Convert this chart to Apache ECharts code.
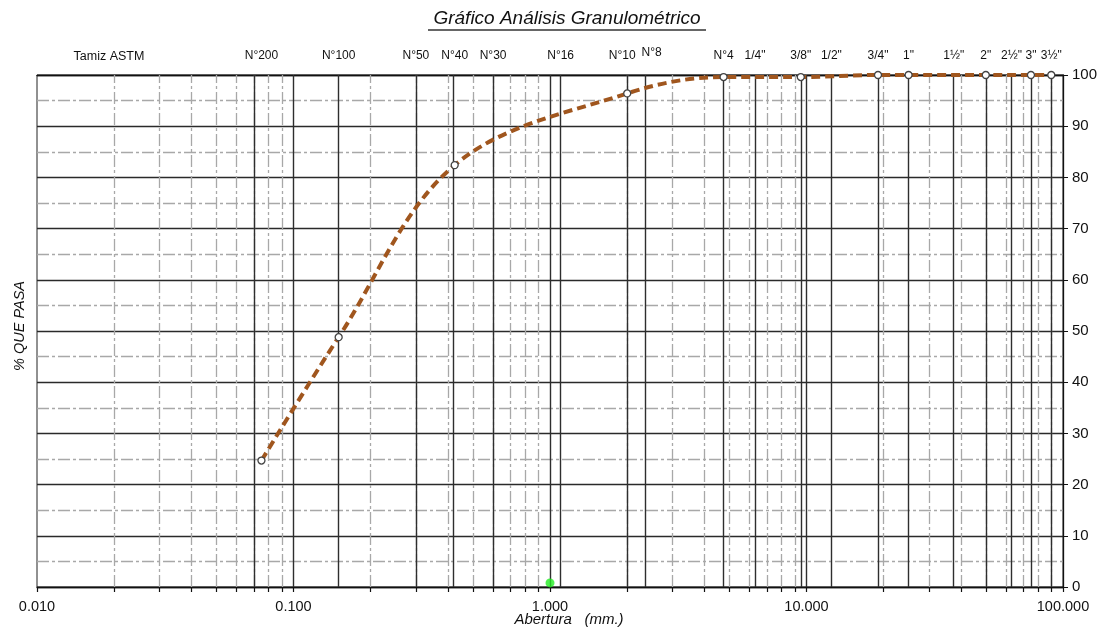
<!DOCTYPE html>
<html><head><meta charset="utf-8">
<script src="https://cdn.jsdelivr.net/npm/echarts@6/dist/echarts.min.js"></script>
<style>html,body{margin:0;padding:0;background:#fff}#c{width:1106px;height:628px}</style>
</head><body><div id="c"></div>
<script>
// ---- data ----
const sieveNames = ['N°200','N°100','N°50','N°40','N°30','N°16','N°10','N°8','N°4','1/4"','3/8"','1/2"','3/4"','1"','1½"','2"','2½"','3"','3½"'];
const sieveSizes = [0.075,0.15,0.3,0.425,0.6,1.1,2.0,2.36,4.75,6.3,9.5,12.5,19,25,37.5,50,63,75,90];
const sampleSizes = [0.075,0.15,0.425,2.0,4.75,9.5,19,25,50,75,90];
const samplePassing = [24.7,48.8,82.4,96.4,99.6,99.6,100,100,100,100,100];
const greenPoint = [1.0, 0.8];
const decadeValues = [0.01,0.1,1,10,100];
const innerDecades = [0.1,1,10];
const minorValues = [0.02,0.03,0.04,0.05,0.06,0.07,0.08,0.09,
                     0.2,0.3,0.4,0.5,0.6,0.7,0.8,0.9,
                     2,3,4,5,6,7,8,9,
                     20,30,40,50,60,70,80,90];
const tickValues = decadeValues.concat(minorValues);

const FONT = 'Liberation Sans, Arial, sans-serif';
const NARROW = 'Liberation Sans Narrow, Liberation Sans, Arial, sans-serif';

const chart = echarts.init(document.getElementById('c'), null, {renderer:'canvas'});
const darkLines = innerDecades.concat(sieveSizes);

const richStyles = {
  n10: {fontFamily: NARROW, fontSize: 12, color: '#111', padding: [0,10,0,0]},
  n8: {fontFamily: NARROW, fontSize: 12, color: '#111', padding: [0,0,3,12]}
};

chart.setOption({
  animation: false,
  backgroundColor: '#fff',
  grid: {left: 37, right: 43, top: 75, bottom: 41, show: true, borderColor: '#222', borderWidth: 1},
  xAxis: [{
    type: 'log', logBase: 10, min: 0.01, max: 100, position: 'bottom',
    axisLine: {show: true, onZero: false, lineStyle: {color: '#111', width: 1.3}},
    axisTick: {show: true, customValues: tickValues, length: 5, inside: false, lineStyle: {color: '#111', width: 1.2}},
    axisLabel: {customValues: decadeValues, formatter: v => Number(v).toFixed(3), fontFamily: FONT, fontSize: 14.5, color: '#111', margin: 12},
    splitLine: {show: false}
  }, {
    type: 'log', logBase: 10, min: 0.01, max: 100, position: 'top',
    axisLine: {show: true, onZero: false, lineStyle: {color: '#111', width: 1.3}},
    axisTick: {show: false},
    axisLabel: {
      customValues: sieveSizes,
      formatter: v => {
        const i = sieveSizes.indexOf(Number(v));
        const n = i >= 0 ? sieveNames[i] : '';
        if (n === 'N°8') return '{n8|' + n + '}';
        if (n === 'N°10') return '{n10|' + n + '}';
        return n;
      },
      rich: richStyles,
      fontFamily: NARROW, fontSize: 12, color: '#111', margin: 13, hideOverlap: false
    },
    splitLine: {show: false}
  }],
  yAxis: {
    type: 'value', min: 0, max: 100, interval: 10, position: 'right',
    axisLine: {show: true, onZero: false, lineStyle: {color: '#111', width: 1.3}},
    axisTick: {show: true, length: 5, lineStyle: {color: '#111'}},
    axisLabel: {fontFamily: FONT, fontSize: 15, color: '#111', margin: 9},
    splitLine: {show: true, lineStyle: {color: '#2a2a2a', width: 1.3}},
    minorTick: {show: false, splitNumber: 2},
    minorSplitLine: {show: true, lineStyle: {color: '#a8a8a8', width: 1.3, type: [12,3,3,3]}}
  },
  graphic: [
    {type: 'text', x: 567, y: 19, style: {text: 'Gráfico Análisis Granulométrico', font: 'italic 19px ' + FONT, fill: '#111', align: 'center', verticalAlign: 'middle'}},
    {type: 'line', shape: {x1: 428, y1: 30, x2: 706, y2: 30}, style: {stroke: '#333', lineWidth: 1.3}},
    {type: 'text', x: 109, y: 57, style: {text: 'Tamiz ASTM', font: '12.5px ' + NARROW, fill: '#111', align: 'center', verticalAlign: 'middle'}},
    {type: 'text', x: 20, y: 326, rotation: Math.PI / 2, style: {text: '% QUE PASA', font: 'italic 14.5px ' + FONT, fill: '#111', align: 'center', verticalAlign: 'middle'}},
    {type: 'text', x: 569, y: 620, style: {text: 'Abertura   (mm.)', font: 'italic 15px ' + FONT, fill: '#111', align: 'center', verticalAlign: 'middle'}}
  ],
  series: [{
    type: 'line', xAxisIndex: 0, data: [], silent: true,
    markLine: {silent: true, symbol: 'none', animation: false, label: {show: false},
      lineStyle: {color: '#a8a8a8', width: 1.3, type: [12,3,3,3]},
      emphasis: {disabled: true},
      data: minorValues.map(v => ({xAxis: v}))}
  }, {
    type: 'line', xAxisIndex: 0, data: [], silent: true,
    markLine: {silent: true, symbol: 'none', animation: false, label: {show: false},
      lineStyle: {color: '#2e2e2e', width: 1.4, type: 'solid'},
      emphasis: {disabled: true},
      data: darkLines.map(v => ({xAxis: v}))}
  }, {
    type: 'line', xAxisIndex: 0, z: 5,
    data: sampleSizes.map((x, i) => [x, samplePassing[i]]),
    smooth: 0.35,
    symbol: 'circle', symbolSize: 7, showSymbol: true,
    itemStyle: {color: '#fff', borderColor: '#444', borderWidth: 1.3},
    lineStyle: {color: '#A0561E', width: 4, type: [9,5]}
  }, {
    type: 'scatter', xAxisIndex: 0, z: 6,
    data: [greenPoint], symbolSize: 9,
    itemStyle: {color: '#22ee22'}
  }]
});
</script></body></html>
